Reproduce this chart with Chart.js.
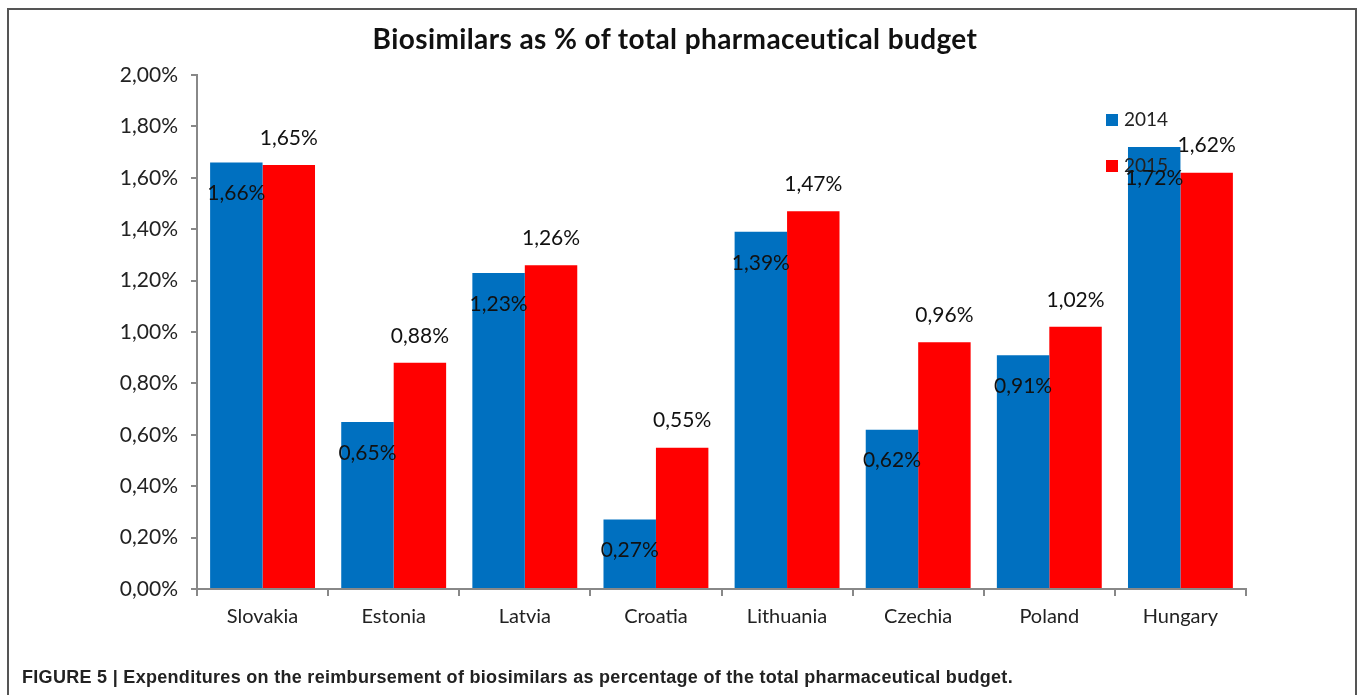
<!DOCTYPE html>
<html>
<head>
<meta charset="utf-8">
<script src="https://cdn.jsdelivr.net/npm/chart.js@4"></script>
<style>
  html, body { margin: 0; padding: 0; background: #fff; overflow: hidden; }
  #frame { position: absolute; left: 7px; top: 8px; width: 1346px; height: 700px; border: 2px solid #555; border-bottom: none; }
  #wrap { position: absolute; left: 0; top: 0; width: 1358px; height: 695px; }
  #title { position: absolute; left: 0; top: 21px; width: 1350px; text-align: center; font-family: Lato, "Open Sans", sans-serif; font-weight: bold; font-size: 28px; line-height: 34px; letter-spacing: 0.4px; color: #111; }
  #caption { position: absolute; left: 22px; top: 666px; font-family: "Liberation Sans", Arial, sans-serif; font-weight: bold; font-size: 18px; line-height: 22px; letter-spacing: 0.3px; color: #222; white-space: nowrap; }
</style>
</head>
<body>
<div id="frame"></div>
<div id="wrap"><canvas id="chart"></canvas></div>
<div id="title">Biosimilars as % of total pharmaceutical budget</div>
<div id="caption">FIGURE 5 | Expenditures on the reimbursement of biosimilars as percentage of the total pharmaceutical budget.</div>
<script>
const countries = ["Slovakia", "Estonia", "Latvia", "Croatia", "Lithuania", "Czechia", "Poland", "Hungary"];
const values2014 = [1.66, 0.65, 1.23, 0.27, 1.39, 0.62, 0.91, 1.72];
const values2015 = [1.65, 0.88, 1.26, 0.55, 1.47, 0.96, 1.02, 1.62];
const yTicks = [0, 0.2, 0.4, 0.6, 0.8, 1.0, 1.2, 1.4, 1.6, 1.8, 2.0];

const FONT = "Lato, 'Open Sans', sans-serif";

function pct(v) {
  return v.toFixed(2).replace(".", ",") + "%";
}

// data labels: 2014 inside the top of the bar, 2015 above the bar
const valueLabels = {
  id: "valueLabels",
  afterDatasetsDraw(chart) {
    const ctx = chart.ctx;
    ctx.save();
    ctx.font = "21px " + FONT;
    ctx.fillStyle = "#111";
    ctx.textAlign = "center";
    ctx.textBaseline = "middle";
    chart.data.datasets.forEach((ds, i) => {
      const meta = chart.getDatasetMeta(i);
      meta.data.forEach((bar, j) => {
        const y = i === 0 ? bar.y + 31 : bar.y - 27;
        ctx.fillText(pct(ds.data[j]), bar.x, y);
      });
    });
    ctx.restore();
  }
};

// legend drawn over the plot at the right
const overLegend = {
  id: "overLegend",
  afterDatasetsDraw(chart) {
    const ctx = chart.ctx;
    ctx.save();
    ctx.font = "19px " + FONT;
    ctx.textBaseline = "middle";
    ctx.textAlign = "left";
    chart.data.datasets.forEach((ds, i) => {
      const y = 120 + i * 46;
      ctx.fillStyle = ds.backgroundColor;
      ctx.fillRect(1106, y - 6, 12, 12);
      ctx.fillStyle = "#222";
      ctx.fillText(ds.label, 1124, y);
    });
    ctx.restore();
  }
};

new Chart(document.getElementById("chart"), {
  type: "bar",
  data: {
    labels: countries,
    datasets: [
      { label: "2014", data: values2014, backgroundColor: "#0070C0" },
      { label: "2015", data: values2015, backgroundColor: "#FF0000" }
    ]
  },
  options: {
    responsive: true,
    maintainAspectRatio: false,
    animation: false,
    categoryPercentage: 0.8,
    barPercentage: 1.0,
    layout: { padding: { left: 0, right: 112, top: 75, bottom: 56 } },
    plugins: {
      legend: { display: false },
      tooltip: { enabled: false },
      title: { display: false }
    },
    scales: {
      x: {
        afterFit(scale) { scale.height = 50; },
        grid: { display: true, drawOnChartArea: false, drawTicks: true, tickLength: 7, color: "#888", lineWidth: 2 },
        border: { display: true, color: "#888", width: 2 },
        ticks: { color: "#222", font: { family: FONT, size: 20 }, padding: 9 }
      },
      y: {
        min: 0,
        max: 2,
        afterFit(scale) { scale.width = 197; },
        afterBuildTicks(scale) { scale.ticks = yTicks.map(v => ({ value: v })); },
        grid: { display: true, drawOnChartArea: false, drawTicks: true, tickLength: 6, color: "#888", lineWidth: 2 },
        border: { display: true, color: "#888", width: 2 },
        ticks: { color: "#222", font: { family: FONT, size: 21 }, padding: 13, callback: v => pct(v) }
      }
    }
  },
  plugins: [overLegend, valueLabels]
});
</script>
</body>
</html>
